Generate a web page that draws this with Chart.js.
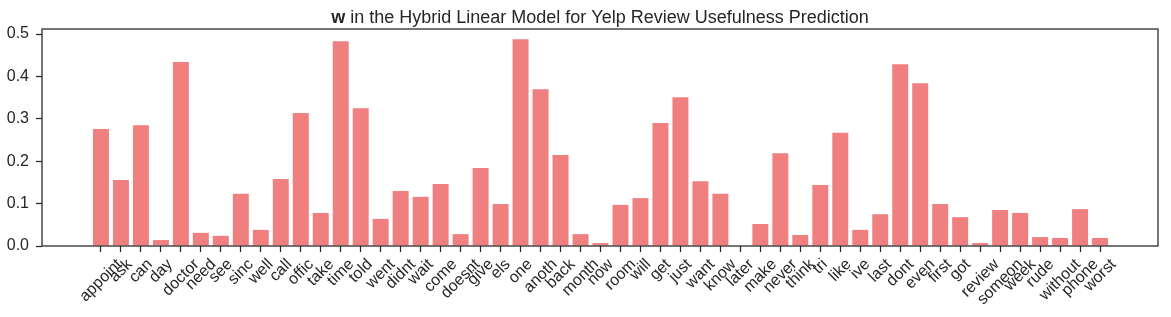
<!DOCTYPE html>
<html lang="en">
<head>
  <meta charset="UTF-8">
  <title>Hybrid Linear Model weights</title>
  <script src="https://cdn.jsdelivr.net/npm/chart.js"></script>
  <style>
    body { margin: 0; background: #fff; }
  </style>
</head>
<body>
  <canvas id="wChart" width="1171" height="317"></canvas>

  <script>
    // words (x tick labels) and their weights
    const words = ['appoint', 'ask', 'can', 'day', 'doctor', 'need', 'see', 'sinc', 'well', 'call',
      'offic', 'take', 'time', 'told', 'went', 'didnt', 'wait', 'come', 'doesnt', 'give',
      'els', 'one', 'anoth', 'back', 'month', 'now', 'room', 'will', 'get', 'just',
      'want', 'know', 'later', 'make', 'never', 'think', 'tri', 'like', 'ive', 'last',
      'dont', 'even', 'first', 'got', 'review', 'someon', 'week', 'rude', 'without', 'phone', 'worst'];
    const weights = [0.276, 0.156, 0.285, 0.014, 0.434, 0.031, 0.024, 0.123, 0.038, 0.158,
      0.314, 0.078, 0.483, 0.325, 0.064, 0.130, 0.116, 0.146, 0.028, 0.184,
      0.099, 0.488, 0.370, 0.215, 0.028, 0.007, 0.097, 0.113, 0.290, 0.351,
      0.153, 0.123, 0.0, 0.052, 0.219, 0.026, 0.144, 0.267, 0.038, 0.075,
      0.429, 0.384, 0.099, 0.068, 0.007, 0.085, 0.078, 0.021, 0.019, 0.087, 0.019];
    const yTicks = [0, 0.1, 0.2, 0.3, 0.4, 0.5];

    const FONT = '"Liberation Sans", Arial, sans-serif';
    const INK = '#262626';

    // frame, title and rotated word labels (matplotlib style, centred under each tick)
    const decor = {
      id: 'decor',
      afterDraw(chart) {
        const ctx = chart.ctx;
        const a = chart.chartArea;
        ctx.save();
        ctx.strokeStyle = INK;
        ctx.lineWidth = 1.25;
        ctx.strokeRect(a.left, a.top, a.right - a.left, a.bottom - a.top);

        // title with bold w
        ctx.fillStyle = INK;
        ctx.textBaseline = 'alphabetic';
        const boldPart = 'w';
        const rest = ' in the Hybrid Linear Model for Yelp Review Usefulness Prediction';
        ctx.font = 'bold 18px ' + FONT;
        const wb = ctx.measureText(boldPart).width;
        ctx.font = '18px ' + FONT;
        const wr = ctx.measureText(rest).width;
        let tx = (a.left + a.right) / 2 - (wb + wr) / 2;
        ctx.font = 'bold 18px ' + FONT;
        ctx.textAlign = 'left';
        ctx.fillText(boldPart, tx, 23);
        ctx.font = '18px ' + FONT;
        ctx.fillText(rest, tx + wb, 23);

        // x labels
        const xs = chart.scales.x;
        ctx.font = '16px ' + FONT;
        ctx.textAlign = 'center';
        ctx.textBaseline = 'middle';
        const h = 14;
        const top = a.bottom + 11;
        words.forEach((w, i) => {
          const px = xs.getPixelForValue(i);
          const tw = ctx.measureText(w).width;
          const cy = top + (tw + h) * Math.SQRT1_2 / 2;
          ctx.save();
          ctx.translate(px, cy);
          ctx.rotate(-Math.PI / 4);
          ctx.fillText(w, 0, 0);
          ctx.restore();
        });
        ctx.restore();
      }
    };

    const ctx = document.getElementById('wChart').getContext('2d');
    new Chart(ctx, {
      type: 'bar',
      data: {
        datasets: [{
          data: words.map((w, i) => ({ x: i, y: weights[i] })),
          backgroundColor: '#f08080',
          borderWidth: 0,
          categoryPercentage: 1.0,
          barPercentage: 0.8
        }]
      },
      options: {
        responsive: false,
        animation: false,
        layout: { padding: { top: 29, right: 13, bottom: 0, left: 0 } },
        plugins: { legend: { display: false }, tooltip: { enabled: false } },
        scales: {
          x: {
            type: 'linear',
            offset: false,
            min: -2.95,
            max: 52.9,
            afterBuildTicks: axis => {
              axis.ticks = words.map((w, i) => ({ value: i }));
            },
            afterFit: s => { s.height = 71; },
            ticks: { display: false },
            grid: { offset: false, drawOnChartArea: false, tickLength: 6, color: INK, tickWidth: 1.25 },
            border: { display: false }
          },
          y: {
            min: 0,
            max: 0.512,
            afterBuildTicks: axis => {
              axis.ticks = yTicks.map(v => ({ value: v }));
            },
            afterFit: s => { s.width = 42; },
            ticks: {
              color: INK,
              padding: 7,
              font: { family: FONT, size: 16 },
              callback: v => v.toFixed(1)
            },
            grid: { drawOnChartArea: false, tickLength: 6, color: INK, tickWidth: 1.25 },
            border: { display: false }
          }
        }
      },
      plugins: [decor]
    });
  </script>
</body>
</html>
